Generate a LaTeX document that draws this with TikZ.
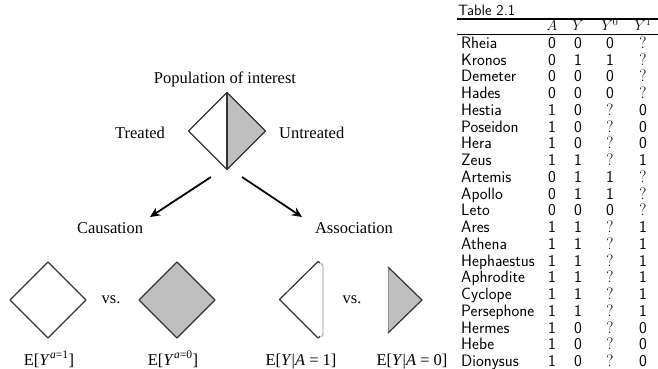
\documentclass[tikz,border=0pt]{standalone}
\usepackage{fontspec}
\newfontfamily\tnr{Liberation Serif}
\usetikzlibrary{arrows.meta}
\newcommand\qmk{{\rmfamily ?}}
\begin{document}
\begin{tikzpicture}[x=1pt,y=1pt,
  lbl/.style={font=\tnr\fontsize{16.5}{18}\selectfont, inner sep=0, anchor=base},
  shp/.style={draw=black!80, line width=1.2pt, line join=round},
  shade/.style={fill=gray!50},
  thinedge/.style={draw=black!45, line width=0.7pt},
  arr/.style={line width=1.8pt, -{Stealth[length=10pt,width=9pt]}},
  tcell/.style={font=\sffamily\fontsize{16.5}{18}\selectfont, inner sep=0, anchor=base},
  thead/.style={font=\fontsize{14}{16}\selectfont, inner sep=0, anchor=base},
  tname/.style={tcell, anchor=base west},
  hrule/.style={line width=1.3pt},
  lrule/.style={line width=0.5pt}]
\useasboundingbox (0,0) rectangle (658,-369);

% ---------- top diamond ----------
\coordinate (tt) at (227,-92.5);
\coordinate (tr) at (265.5,-131);
\coordinate (tb) at (227,-169.5);
\coordinate (tl) at (188.5,-131);
\fill[shade] (tt) -- (tr) -- (tb) -- cycle;
\draw[shp] (tt) -- (tr) -- (tb) -- (tl) -- cycle;
\draw[shp] (tt) -- (tb);

\node[lbl] (pop) at (225,-83) {Population of interest};
\node[lbl] (treated) at (140,-138) {Treated};
\node[lbl, anchor=base west] (untreated) at (279,-138) {Untreated};

% ---------- arrows ----------
\coordinate (a1s) at (211,-177);
\coordinate (a1e) at (150,-217);
\coordinate (a2s) at (242,-177);
\coordinate (a2e) at (302,-217);
\draw[arr] (a1s) -- (a1e);
\draw[arr] (a2s) -- (a2e);

\node[lbl] (caus) at (110,-233) {Causation};
\node[lbl] (assoc) at (354,-233) {Association};

% ---------- causation diamonds ----------
\draw[shp] (48,-262) -- (86,-300) -- (48,-338) -- (10,-300) -- cycle;
\draw[shp, shade] (177,-262) -- (215,-300) -- (177,-338) -- (139,-300) -- cycle;
\node[lbl] (vs1) at (111,-303) {vs.};

% ---------- association halves ----------
\draw[thinedge] (321,-263) -- (323,-266) -- (323,-334) -- (321,-337);
\draw[shp] (320,-263) -- (318,-261.5) -- (279.5,-299.5) -- (318,-338) -- (320,-336.5);
\fill[shade] (388,-267) -- (422,-300) -- (388,-333) -- cycle;
\draw[thinedge] (388,-267) -- (388,-333);
\draw[shp] (388,-267) -- (422,-300) -- (388,-333);
\node[lbl] (vs2) at (352,-303) {vs.};

% ---------- bottom labels ----------
\node[lbl] (e1) at (49,-365) {E[\textit{Y}\textsuperscript{\textit{a}=1}]};
\node[lbl] (e0) at (173,-365) {E[\textit{Y}\textsuperscript{\textit{a}=0}]};
\node[lbl] (c1) at (301,-365) {E[\textit{Y}|\textit{A} = 1]};
\node[lbl] (c0) at (412,-365) {E[\textit{Y}|\textit{A} = 0]};

% ---------- table ----------
\node[tname, font=\sffamily\fontsize{15}{17}\selectfont] (ttl) at (458,-16) {Table 2.1};
\coordinate (r1l) at (457,-19);
\coordinate (r1r) at (658,-19);
\coordinate (r2l) at (457,-34);
\coordinate (r2r) at (658,-34);
\draw[hrule] (r1l) -- (r1r);
\draw[lrule] (r2l) -- (r2r);
\node[thead] (hA) at (552,-31) {$A$};
\node[thead] (hY) at (578,-31) {$Y$};
\node[thead] (hY0) at (610,-31) {$Y^0$};
\node[thead] (hY1) at (643,-31) {$Y^1$};

\foreach \nm/\va/\vy/\vp/\vq [count=\i] in {
  Rheia/0/0/0/\qmk, Kronos/0/1/1/\qmk, Demeter/0/0/0/\qmk, Hades/0/0/0/\qmk,
  Hestia/1/0/\qmk/0, Poseidon/1/0/\qmk/0, Hera/1/0/\qmk/0, Zeus/1/1/\qmk/1,
  Artemis/0/1/1/\qmk, Apollo/0/1/1/\qmk, Leto/0/0/0/\qmk, Ares/1/1/\qmk/1,
  Athena/1/1/\qmk/1, Hephaestus/1/1/\qmk/1, Aphrodite/1/1/\qmk/1,
  Cyclope/1/1/\qmk/1, Persephone/1/1/\qmk/1, Hermes/1/0/\qmk/0,
  Hebe/1/0/\qmk/0, Dionysus/1/0/\qmk/0} {
  \pgfmathsetmacro\yy{-48.5-(\i-1)*16.74}
  \node[tname] (n\i) at (461,\yy) {\nm};
  \node[tcell] (ca\i) at (552,\yy) {\va};
  \node[tcell] (cy\i) at (578,\yy) {\vy};
  \node[tcell] (cp\i) at (610,\yy) {\vp};
  \node[tcell] (cq\i) at (643,\yy) {\vq};
}
\end{tikzpicture}
\end{document}
